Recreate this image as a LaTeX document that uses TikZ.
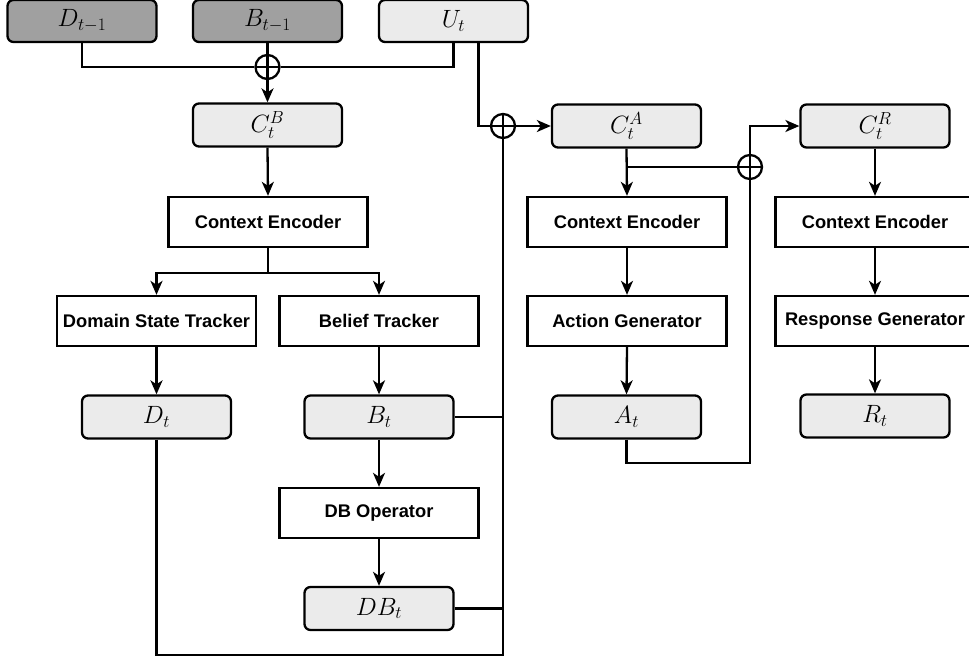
\RequirePackage{fix-cm}
\documentclass[tikz,border=0pt]{standalone}
\usepackage{fontspec}
\setsansfont{Liberation Sans}
\usetikzlibrary{arrows.meta,calc}
\definecolor{darkfill}{HTML}{A0A0A0}
\definecolor{lightfill}{HTML}{EBEBEB}
\begin{document}
\begin{tikzpicture}[x=1pt,y=-1pt,line width=2.3pt,
  rbox/.style={draw,rounded corners=6pt,fill=lightfill,minimum width=149pt,minimum height=43pt,inner sep=0pt,font=\fontsize{25}{28}\selectfont},
  dbox/.style={rbox,fill=darkfill},
  pbox/.style={draw,fill=white,minimum width=199pt,minimum height=50pt,inner sep=0pt,font=\sffamily\bfseries\fontsize{18.3}{21}\selectfont},
  oplus/.style={draw,circle,minimum size=24pt,inner sep=0pt,fill=white,
    path picture={\draw[line width=2.3pt] (path picture bounding box.north) -- (path picture bounding box.south)
                   (path picture bounding box.west) -- (path picture bounding box.east);}},
  arr/.style={-{Stealth[length=14pt,width=12pt,inset=4pt]}}]
\useasboundingbox (0,0) rectangle (969,661);
% top inputs
\node[dbox,minimum height=42pt] (Dprev) at (82,21) {$D_{t-1}$};
\node[dbox,minimum height=42pt] (Bprev) at (267.5,21) {$B_{t-1}$};
\node[rbox,minimum height=42pt] (Ut) at (453.5,21) {$U_t$};
\node[oplus] (o1) at (267.5,67) {};
\node[rbox] (CB) at (267.5,125) {$C_t^B$};
% left pipeline
\node[pbox] (CE1) at (268,222) {Context Encoder};
\node[pbox] (DST) at (156.5,321) {Domain State Tracker};
\node[pbox] (BT) at (379,321) {Belief Tracker};
\node[rbox] (Dt) at (156.5,417) {$D_t$};
\node[rbox] (Bt) at (379,417) {$B_t$};
\node[pbox] (DBop) at (379,513) {DB Operator};
\node[rbox] (DBt) at (379,608.5) {$DB_t$};
% middle pipeline
\node[oplus] (o2) at (503,126) {};
\node[rbox] (CA) at (626.5,126) {$C_t^A$};
\node[pbox] (CE2) at (627,222) {Context Encoder};
\node[pbox] (AG) at (627,321) {Action Generator};
\node[rbox] (At) at (626.5,417) {$A_t$};
% right pipeline
\node[oplus] (o3) at (750,167) {};
\node[rbox] (CR) at (875,126) {$C_t^R$};
\node[pbox] (CE3) at (875,222) {Context Encoder};
\node[pbox] (RG) at (875,321) {Response Generator};
\node[rbox] (Rt) at (875,416) {$R_t$};
\coordinate (corner) at (503,655);
% connectors: top
\draw (Dprev.south) |- (o1.west);
\draw (Ut.south) |- (o1.east);
\draw (Bprev.south) -- (o1.north);
\draw[arr] (o1.south) -- (CB.north);
\draw ([xshift=25pt]Ut.south) |- (o2.west);
\draw[arr] (o2.east) -- (CA.west);
% left
\draw[arr] (CB.south) -- (CE1.north);
\draw[arr] (CE1.south) -- ++(0,25) -| (DST.north);
\draw[arr] (CE1.south) -- ++(0,25) -| (BT.north);
\draw[arr] (DST.south) -- (Dt.north);
\draw[arr] (BT.south) -- (Bt.north);
\draw[arr] (Bt.south) -- (DBop.north);
\draw[arr] (DBop.south) -- (DBt.north);
\draw (Dt.south) |- (corner) -- (o2.south);
\draw (Bt.east) -- (Bt.east -| o2.south);
\draw (DBt.east) -- (DBt.east -| o2.south);
% middle
\draw[arr] (CA.south) -- (CE2.north);
\draw (CA.south |- o3.west) -- (o3.west);
\draw[arr] (CE2.south) -- (AG.north);
\draw[arr] (AG.south) -- (At.north);
\draw (At.south) -- ++(0,23) -| (o3.south);
\draw[arr] (o3.north) |- (CR.west);
% right
\draw[arr] (CR.south) -- (CE3.north);
\draw[arr] (CE3.south) -- (RG.north);
\draw[arr] (RG.south) -- (Rt.north);
\end{tikzpicture}
\end{document}
